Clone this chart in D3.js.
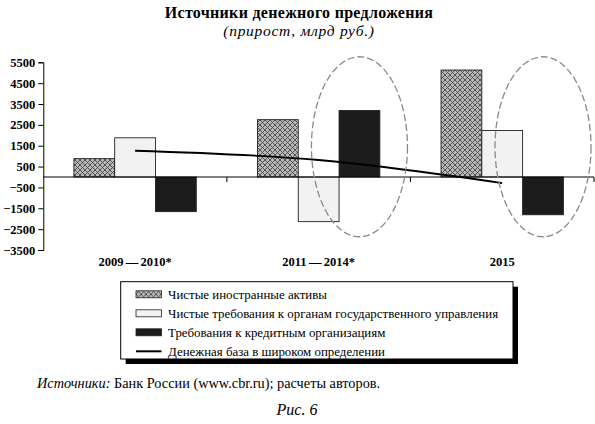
<!DOCTYPE html>
<html><head><meta charset="utf-8">
<script src="https://cdn.jsdelivr.net/npm/d3@7"></script>
<style>
body{margin:0;background:#fff;}
svg{display:block;}
text{font-family:"Liberation Serif","DejaVu Serif",serif;fill:#000;}
</style></head>
<body><svg id="c" width="595" height="424"></svg>
<script>
const categories = ["2009 — 2010*", "2011 — 2014*", "2015"];
const seriesNames = [
  "Чистые иностранные активы",
  "Чистые требования к органам государственного управления",
  "Требования к кредитным организациям"
];
const foreignAssets = [880, 2750, 5130];
const govClaims = [1880, -2140, 2230];
const creditOrgClaims = [-1660, 3190, -1810];
const lineName = "Денежная база в широком определении";
const moneyBase = [1260, 815, -290];
const yTicks = [5500, 4500, 3500, 2500, 1500, 500, -500, -1500, -2500, -3500];
const highlights = [ {cat: "2011 — 2014*", series: 2}, {cat: "2015", series: 2} ];

const seriesValues = [foreignAssets, govClaims, creditOrgClaims];

const svg = d3.select("#c");
const L = 43.3, R = 594, T = 62.3, B = 250;
const FONT = "'Liberation Serif',serif";

const defs = svg.append("defs");
const pat = defs.append("pattern").attr("id","hatch").attr("patternUnits","userSpaceOnUse")
  .attr("width",5).attr("height",5);
pat.append("rect").attr("width",5).attr("height",5).attr("fill","#b8b8b8");
pat.append("path").attr("d","M0,0L5,5M5,0L0,5M-1,4L1,6M4,-1L6,1M4,6L6,4M-1,1L1,-1")
  .attr("stroke","#4a4a4a").attr("stroke-width",0.9);
const fills = ["url(#hatch)", "#f2f2f2", "#1c1c1c"];

const x = d3.scaleBand().domain(categories).range([L, R]).paddingInner(0).paddingOuter(0);
const bw = x.bandwidth();
const x1 = d3.scaleBand().domain(d3.range(3)).range([bw/6, bw*5/6]).padding(0);
const y = d3.scaleLinear().domain([-3500, 5500]).range([B, T]);

// bars
const bars = [];
seriesValues.forEach((vals, s) => vals.forEach((v, i) => bars.push({cat: categories[i], s, v})));
svg.append("g").selectAll("rect").data(bars).join("rect")
  .attr("x", d => x(d.cat) + x1(d.s))
  .attr("width", x1.bandwidth())
  .attr("y", d => y(Math.max(0, d.v)))
  .attr("height", d => Math.abs(y(d.v) - y(0)))
  .attr("fill", d => fills[d.s])
  .attr("stroke", "#222").attr("stroke-width", 0.9);

// y axis
const yAxis = d3.axisLeft(y).tickValues(yTicks).tickSize(5).tickPadding(3)
  .tickFormat(d => d < 0 ? "−" + Math.abs(d) : String(d));
const ya = svg.append("g").attr("transform", `translate(${L},0)`).call(yAxis);
ya.select(".domain").attr("stroke","#000").attr("stroke-width",1);
ya.selectAll(".tick line").attr("stroke","#000");
ya.selectAll("text").style("font-family",FONT).style("font-size","12.5px")
  .style("font-weight","bold").attr("fill","#000");

// zero axis with category boundary ticks
const xa = svg.append("g").attr("transform", `translate(0,${y(0)})`);
xa.append("line").attr("x1", L).attr("x2", R).attr("stroke","#000").attr("stroke-width",1);
xa.selectAll(".bt").data(categories).join("line")
  .attr("x1", d => x(d) + bw).attr("x2", d => x(d) + bw)
  .attr("y1", 0).attr("y2", 5).attr("stroke","#000");

// category labels
const xAxis = d3.axisBottom(x).tickSize(0).tickPadding(7);
const xl = svg.append("g").attr("transform", `translate(0,${B})`).call(xAxis);
xl.select(".domain").remove();
xl.selectAll("text").style("font-family",FONT).style("font-size","12.5px")
  .style("font-weight","bold").style("word-spacing","-0.8px").attr("fill","#000");

// line
const line = d3.line().x((d,i) => x(categories[i]) + bw/2).y(d => y(d)).curve(d3.curveMonotoneX);
svg.append("path").datum(moneyBase).attr("d", line).attr("fill","none")
  .attr("stroke","#000").attr("stroke-width",1.8);

// highlight ellipses
svg.append("g").selectAll("ellipse").data(highlights).join("ellipse")
  .attr("cx", d => x(d.cat) + x1(d.series) + x1.bandwidth()/2)
  .attr("cy", y(1450))
  .attr("rx", 48).attr("ry", 90)
  .attr("fill","none").attr("stroke","#8a8a8a").attr("stroke-width",1.3)
  .attr("stroke-dasharray","7,3");

// title
svg.append("text").attr("x", 299).attr("y", 18).attr("text-anchor","middle")
  .style("font-size","16px").style("font-weight","bold").style("letter-spacing","0.3px")
  .text("Источники денежного предложения");
svg.append("text").attr("x", 299).attr("y", 36).attr("text-anchor","middle")
  .style("font-size","15.5px").style("font-style","italic").style("letter-spacing","0.7px")
  .text("(прирост, млрд руб.)");

// legend
const lg = svg.append("g");
const lx = 120.7, ly = 281.7, lw = 392.3, lh = 77.3;
lg.append("rect").attr("x", lx+5).attr("y", ly+5).attr("width", lw).attr("height", lh).attr("fill","#000");
lg.append("rect").attr("x", lx).attr("y", ly).attr("width", lw).attr("height", lh)
  .attr("fill","#fff").attr("stroke","#000").attr("stroke-width",1);
const items = seriesNames.map((n, i) => ({n, i, type: "bar"})).concat([{n: lineName, i: 3, type: "line"}]);
const li = lg.selectAll("g.it").data(items).join("g").attr("class","it")
  .attr("transform", d => `translate(136,${294.3 + d.i * 19})`);
li.filter(d => d.type === "bar").append("rect").attr("x",0).attr("y",-3.5).attr("width",25.5).attr("height",7)
  .attr("fill", d => fills[d.i]).attr("stroke","#222").attr("stroke-width",0.8);
li.filter(d => d.type === "line").append("line").attr("x1",0).attr("x2",25.5).attr("y1",0).attr("y2",0)
  .attr("stroke","#000").attr("stroke-width",2);
li.append("text").attr("x", 32).attr("y", 4.5).style("font-size","12.9px").text(d => d.n);

// source
const src = svg.append("text").attr("x", 37).attr("y", 388).style("font-size","14.3px");
src.append("tspan").style("font-style","italic").text("Источники:");
src.append("tspan").text(" Банк России (www.cbr.ru); расчеты авторов.");
svg.append("text").attr("x", 297).attr("y", 415).attr("text-anchor","middle")
  .style("font-size","16px").style("font-style","italic").text("Рис. 6");
</script></body></html>
